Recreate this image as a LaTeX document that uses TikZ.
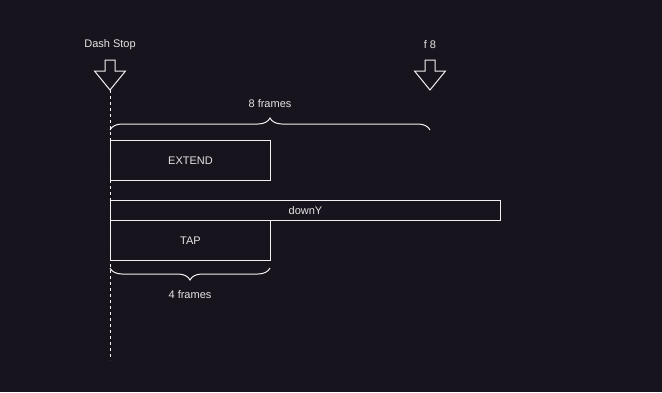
\documentclass[tikz,border=0pt]{standalone}
\usepackage{fontspec}
\setmainfont{Liberation Sans}
\usepackage{tikz}
\usetikzlibrary{positioning}
\usetikzlibrary{decorations.pathreplacing}
\definecolor{bgdark}{RGB}{24,20,29}
\definecolor{ink}{RGB}{240,240,240}
\definecolor{txt}{RGB}{228,228,228}
\tikzstyle{frame} = [draw=ink, line width=1pt, rectangle, minimum width=160pt, minimum height=40pt, inner sep=0pt, text=txt]
\tikzstyle{bar} = [draw=ink, line width=1pt, rectangle, minimum width=390pt, minimum height=20pt, inner sep=0pt, text=txt]
\tikzstyle{marker} = [draw=ink, line width=1pt, line join=miter]
\tikzstyle{label} = [text=txt, inner sep=0pt]
\tikzstyle{span} = [draw=ink, line width=1pt, decorate, decoration={brace, amplitude=12pt}]
\tikzstyle{coord} = [coordinate]

% hollow down arrow, tip at the given point
\newcommand{\downmark}[1]{%
	\draw [marker] (#1) -- ++(-15.5,-19) -- ++(10.5,0) -- ++(0,-11) -- ++(10,0)
		-- ++(0,11) -- ++(10.5,0) -- cycle;}

\begin{document}
\begin{tikzpicture}[x=1pt, y=-1pt, font=\fontsize{11}{13}\selectfont]
	\fill[bgdark] (0,0) rectangle (662,392);
	\useasboundingbox (0,0) rectangle (662,392);

	% frame markers
	\node [coord] (stop) at (110,90) {};
	\node [coord] (f8) at (430,90) {};
	\node [label] (stoplbl) at (110,45) {Dash Stop};
	\node [label] (f8lbl) at (430,45) {f 8};
	\node [coord] (timeend) at (110,360) {};
	\downmark{stop}
	\downmark{f8}

	% input windows
	\node [frame, anchor=north west] (extend) at (110,140) {EXTEND};
	\node [bar, anchor=north west] (downy) at (110,200) {downY};
	\node [frame, anchor=north west] (tap) at (110,220) {TAP};

	\node [coord] (l8) at (110,130) {};
	\node [coord] (r8) at (430,130) {};
	\node [coord] (l4) at (110,268) {};
	\node [coord] (r4) at (270,268) {};
	\node [label] (frames8) at (270,104) {8 frames};
	\node [label] (frames4) at (190,295) {4 frames};

	\draw [ink!75, line width=0.8pt, dash pattern=on 3pt off 3pt] (stop) -- (timeend);
	\draw [span] (l8) -- (r8);
	\draw [span] (r4) -- (l4);

\end{tikzpicture}
\end{document}
